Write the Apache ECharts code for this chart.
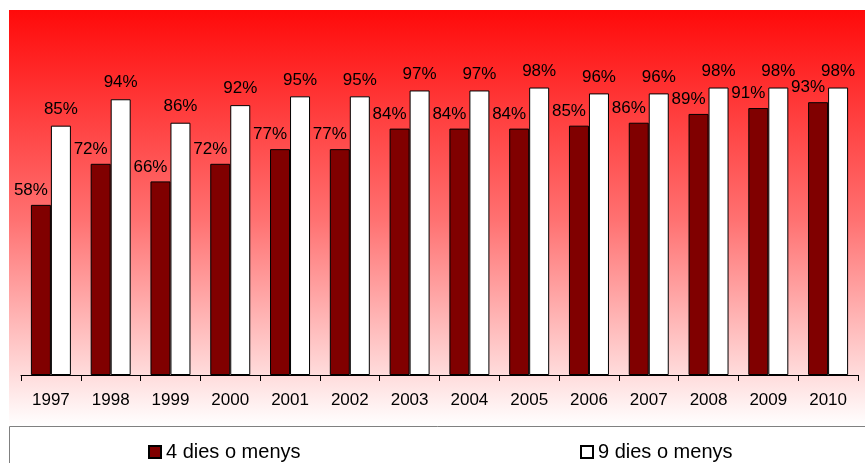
<!DOCTYPE html>
<html>
<head>
<meta charset="utf-8">
<script src="https://cdn.jsdelivr.net/npm/echarts@6/dist/echarts.min.js"></script>
<style>
html,body{margin:0;padding:0;background:#fff;}
#c{width:865px;height:463px;}
</style>
</head>
<body>
<div id="c"></div>
<script>
const years = ['1997','1998','1999','2000','2001','2002','2003','2004','2005','2006','2007','2008','2009','2010'];
const fourDays = [58,72,66,72,77,77,84,84,84,85,86,89,91,93];
const nineDays = [85,94,86,92,95,95,97,97,98,96,96,98,98,98];
const seriesNames = ['4 dies o menys','9 dies o menys'];

const chart = echarts.init(document.getElementById('c'), null, {renderer:'canvas'});
const font = 'Arial, "Liberation Sans", sans-serif';
chart.setOption({
  animation:false,
  backgroundColor:'#ffffff',
  graphic:[
    {type:'rect', z:-10, silent:true,
     shape:{x:9,y:10,width:870,height:416},
     style:{fill:new echarts.graphic.LinearGradient(0,0,0,1,[
       {offset:0,color:'#ff0a0a'},
       {offset:0.5,color:'#ff7070'},
       {offset:1,color:'#ffffff'}
     ])}},
    {type:'rect', z:-5, silent:true,
     shape:{x:9.5,y:426.5,width:870,height:50},
     style:{fill:'#ffffff',stroke:'#808080',lineWidth:1}}
  ],
  grid:{left:21,right:7,top:23,bottom:88,containLabel:false},
  legend:[
    {data:[seriesNames[0]], left:143, top:437, icon:'rect', itemWidth:12, itemHeight:12, itemGap:5,
     textStyle:{fontSize:20,color:'#000',fontFamily:font}},
    {data:[seriesNames[1]], left:575, top:437, icon:'rect', itemWidth:12, itemHeight:12, itemGap:5,
     textStyle:{fontSize:20,color:'#000',fontFamily:font}}
  ],
  xAxis:{
    type:'category', data:years,
    axisLine:{lineStyle:{color:'#000',width:1}},
    axisTick:{show:true,length:6,lineStyle:{color:'#000'}},
    axisLabel:{fontSize:17,color:'#000',fontFamily:font,margin:17}
  },
  yAxis:{type:'value',min:0,max:120,show:false,splitLine:{show:false}},
  series:[
    {name:seriesNames[0], type:'bar', data:fourDays, barWidth:20, barGap:'0%',
     itemStyle:{color:'#800000',borderColor:'#000',borderWidth:1},
     label:{show:true,position:'top',distance:6,offset:[-10,0],formatter:'{c}%',
       fontSize:17,color:'#000',fontFamily:font}},
    {name:seriesNames[1], type:'bar', data:nineDays, barWidth:20,
     itemStyle:{color:'#ffffff',borderColor:'#000',borderWidth:1},
     label:{show:true,position:'top',distance:8,formatter:'{c}%',
       fontSize:17,color:'#000',fontFamily:font}}
  ]
});
</script>
</body>
</html>
